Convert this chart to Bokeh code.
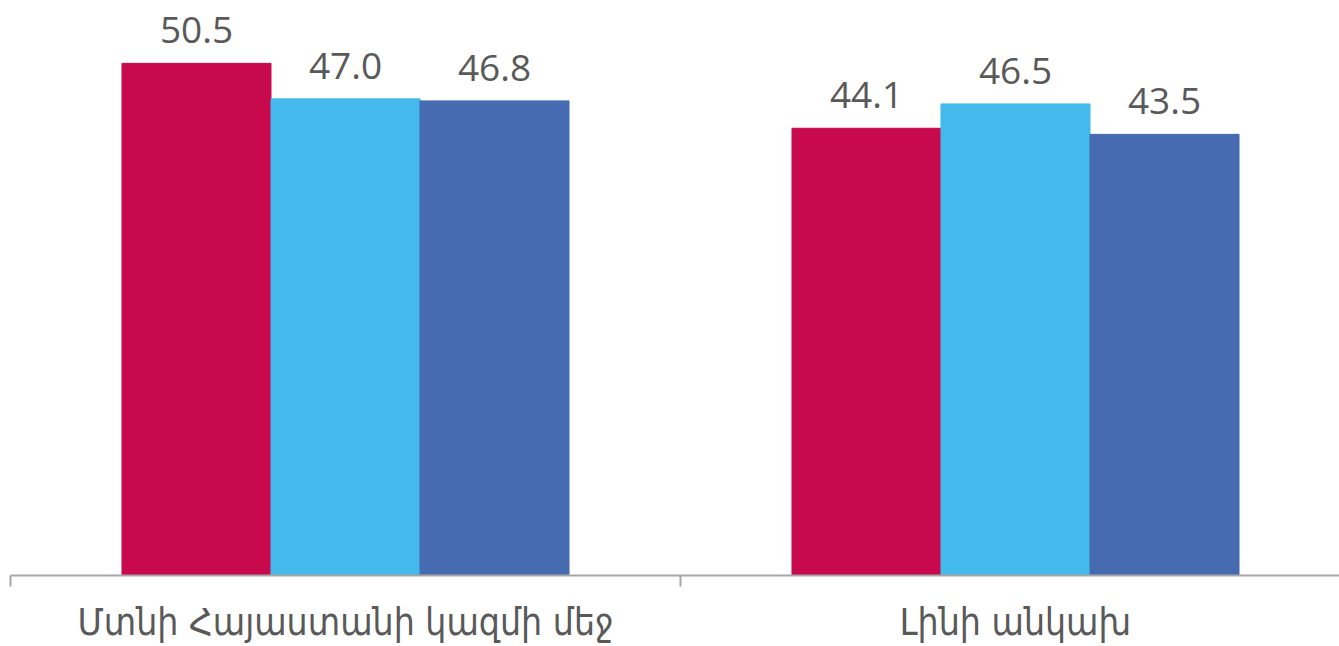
from bokeh.plotting import figure
from bokeh.models import ColumnDataSource, Range1d, FixedTicker, LabelSet
from bokeh.core.properties import value
from bokeh.embed import file_html
from bokeh.resources import INLINE

categories = ["Մտնի Հայաստանի կազմի մեջ", "Լինի անկախ"]
series_a = [50.5, 44.1]
series_b = [47.0, 46.5]
series_c = [46.8, 43.5]
colors = ["#C8094B", "#43B9EC", "#466BB0"]

group_centers = [0.5, 1.5]
bar_w = 0.2224
offsets = [-bar_w, 0.0, bar_w]

p = figure(width=1339, height=646, output_backend="svg", toolbar_location=None,
           x_range=Range1d(0, 1329 / 670), y_range=Range1d(0, 56.7),
           min_border_left=10, min_border_right=0, min_border_top=0, min_border_bottom=71)
p.outline_line_color = None
p.grid.visible = False
p.yaxis.visible = False

for vals, col, off in zip([series_a, series_b, series_c], colors, offsets):
    xs = [c + off for c in group_centers]
    src = ColumnDataSource(dict(x=xs, top=vals, lab=[f"{v:.1f}" for v in vals]))
    p.vbar(x="x", top="top", bottom=0, width=bar_w, source=src, fill_color=col, line_color=col)
    p.add_layout(LabelSet(x="x", y="top", text="lab", source=src, text_align="center",
                          text_baseline="bottom", y_offset=20, text_font=value("Open Sans"),
                          text_font_size="37px", text_color="#595959"))

ax = p.xaxis[0]
ax.ticker = FixedTicker(ticks=group_centers, minor_ticks=[0, 1, 2])
ax.major_label_overrides = {c: t for c, t in zip(group_centers, categories)}
ax.major_tick_line_color = None
ax.major_tick_in = 0
ax.major_tick_out = 0
ax.minor_tick_in = 0
ax.minor_tick_out = 11
ax.minor_tick_line_color = "#A6A6A6"
ax.minor_tick_line_width = 2
ax.axis_line_color = "#A6A6A6"
ax.axis_line_width = 2
ax.major_label_text_font = "DejaVu Sans Condensed"
ax.major_label_text_font_size = "37px"
ax.major_label_text_color = "#595959"
ax.major_label_standoff = 14

open("out.html", "w").write(file_html(p, INLINE))
